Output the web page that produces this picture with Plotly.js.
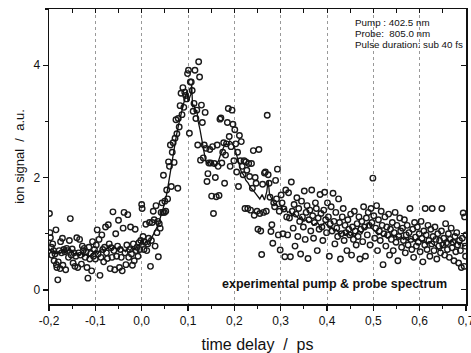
<!DOCTYPE html>
<html><head><meta charset="utf-8">
<script src="https://cdn.plot.ly/plotly-3.0.1.min.js"></script>
<style>html,body{margin:0;padding:0;background:#fff}#chart{width:471px;height:353px}</style>
</head><body><div id="chart"></div>
<script>
// measured points: time delay (ps) and ion signal (a.u.)
var pointX = [
-0.199,-0.198,-0.197,-0.195,-0.194,-0.192,-0.190,-0.189,-0.187,-0.185,-0.184,-0.183,-0.181,-0.180,-0.178,-0.176,-0.175,-0.173,-0.171,-0.170,
-0.168,-0.166,-0.164,-0.162,-0.160,-0.158,-0.156,-0.154,-0.152,-0.150,-0.148,-0.146,-0.144,-0.142,-0.140,-0.138,-0.136,-0.134,-0.132,-0.130,
-0.128,-0.126,-0.124,-0.122,-0.120,-0.118,-0.116,-0.114,-0.112,-0.110,-0.108,-0.106,-0.104,-0.102,-0.100,-0.098,-0.096,-0.094,-0.092,-0.090,
-0.088,-0.086,-0.084,-0.082,-0.080,-0.078,-0.076,-0.074,-0.072,-0.070,-0.068,-0.066,-0.064,-0.062,-0.060,-0.058,-0.056,-0.054,-0.052,-0.050,
-0.048,-0.046,-0.044,-0.042,-0.040,-0.038,-0.036,-0.034,-0.032,-0.030,-0.028,-0.026,-0.024,-0.022,-0.020,-0.018,-0.016,-0.014,-0.012,-0.010,
-0.008,-0.006,-0.004,-0.002,0.000,0.001,0.003,0.005,0.007,0.009,0.011,0.013,0.015,0.017,0.019,0.021,0.023,0.025,0.027,0.029,
0.031,0.033,0.035,0.036,0.038,0.040,0.042,0.044,0.046,0.047,0.049,0.050,0.052,0.054,0.056,0.058,0.060,0.062,0.064,0.066,
0.068,0.070,0.072,0.074,0.076,0.078,0.079,0.081,0.083,0.085,0.087,0.089,0.091,0.093,0.095,0.097,0.099,0.101,0.103,0.105,
0.107,0.109,0.111,0.113,0.115,0.117,0.119,0.121,0.123,0.125,0.127,0.129,0.131,0.133,0.135,0.137,0.139,0.141,0.143,0.145,
0.147,0.149,0.151,0.153,0.155,0.157,0.159,0.161,0.163,0.165,0.167,0.169,0.171,0.173,0.175,0.177,0.179,0.181,0.183,0.185,
0.187,0.189,0.191,0.193,0.195,0.197,0.199,0.201,0.203,0.205,0.207,0.209,0.211,0.213,0.215,0.217,0.219,0.221,0.223,0.225,
0.227,0.229,0.231,0.233,0.235,0.237,0.239,0.241,0.243,0.245,0.247,0.249,0.251,0.253,0.255,0.257,0.259,0.261,0.263,0.265,
0.267,0.269,0.271,0.273,0.275,0.277,0.279,0.281,0.283,0.285,0.287,0.289,0.291,0.293,0.295,0.297,0.299,0.301,0.303,0.305,
0.307,0.309,0.311,0.313,0.315,0.317,0.319,0.321,0.323,0.325,0.327,0.329,0.331,0.333,0.335,0.337,0.339,0.341,0.343,0.345,
0.347,0.349,0.351,0.353,0.355,0.357,0.359,0.361,0.363,0.365,0.367,0.369,0.371,0.373,0.375,0.377,0.379,0.381,0.383,0.385,
0.387,0.389,0.391,0.393,0.395,0.397,0.399,0.401,0.403,0.405,0.407,0.409,0.411,0.413,0.415,0.417,0.419,0.421,0.423,0.425,
0.427,0.429,0.431,0.433,0.435,0.437,0.439,0.441,0.443,0.445,0.447,0.449,0.451,0.453,0.455,0.457,0.459,0.461,0.463,0.465,
0.467,0.469,0.471,0.473,0.475,0.477,0.479,0.481,0.483,0.485,0.487,0.489,0.491,0.493,0.495,0.497,0.499,0.501,0.503,0.505,
0.507,0.509,0.511,0.513,0.515,0.517,0.519,0.521,0.523,0.525,0.527,0.529,0.531,0.533,0.535,0.537,0.539,0.541,0.543,0.545,
0.547,0.549,0.551,0.553,0.555,0.557,0.559,0.561,0.563,0.565,0.567,0.569,0.571,0.573,0.575,0.577,0.579,0.581,0.583,0.585,
0.587,0.589,0.591,0.593,0.595,0.597,0.599,0.601,0.603,0.605,0.607,0.609,0.611,0.612,0.614,0.616,0.618,0.620,0.622,0.624,
0.626,0.627,0.629,0.631,0.633,0.635,0.637,0.639,0.641,0.643,0.645,0.647,0.648,0.650,0.652,0.654,0.656,0.658,0.660,0.662,
0.664,0.666,0.668,0.670,0.672,0.674,0.676,0.678,0.680,0.682,0.684,0.686,0.688,0.690,0.692,0.694,0.696,0.697,0.698,0.699,
0.700
];
var pointY = [
1.36,1.02,0.93,0.76,0.62,0.82,0.70,0.52,0.64,1.07,0.45,0.40,0.18,0.50,0.70,0.38,0.86,0.66,0.92,0.44,
0.72,0.68,0.36,0.74,0.70,0.58,0.88,1.27,0.62,0.73,0.48,0.66,0.42,0.60,0.93,0.40,0.66,0.90,0.62,0.46,
0.78,0.70,0.74,0.58,0.68,0.40,0.21,0.76,0.55,0.65,0.34,0.86,0.60,0.72,0.55,0.80,1.07,0.64,0.90,0.26,
0.58,0.98,0.72,0.50,0.76,1.12,0.66,0.56,1.16,0.82,0.38,0.75,0.58,1.39,0.70,0.36,1.00,0.60,0.78,1.24,
0.40,0.72,0.58,0.34,1.10,1.38,0.66,0.45,0.80,1.34,0.58,0.72,1.12,0.64,0.44,0.82,0.52,1.08,0.70,0.76,
0.60,0.84,0.72,0.88,1.52,1.45,0.95,0.72,0.85,1.17,0.70,0.82,0.92,1.20,0.42,0.88,1.20,1.40,1.25,0.78,
1.50,1.02,1.22,0.59,1.18,1.10,1.38,1.55,1.38,2.04,1.38,1.58,1.40,1.78,1.62,2.28,2.20,2.58,1.84,2.45,
2.62,2.27,2.70,3.03,2.78,1.81,3.05,2.90,3.28,3.50,3.12,3.60,3.25,3.52,3.46,3.40,3.85,3.91,2.79,3.70,
3.70,3.55,3.18,3.32,3.91,3.05,3.20,2.58,4.06,3.79,2.31,3.29,2.98,2.35,2.58,3.16,2.52,1.93,2.07,2.26,
2.50,2.26,1.67,2.55,1.36,2.25,2.00,1.66,2.58,2.20,1.68,3.04,3.06,2.26,2.45,2.62,1.90,2.40,2.60,2.98,
3.23,2.73,2.20,2.55,3.20,2.95,2.30,2.85,2.60,2.10,2.45,1.84,2.75,2.30,2.64,2.20,2.05,2.30,1.45,2.28,
2.13,1.45,2.25,2.02,1.42,2.25,1.81,2.48,1.33,2.00,1.90,1.40,1.08,2.50,1.36,1.05,0.63,1.88,1.38,2.08,
2.10,1.40,3.11,2.05,1.90,1.65,1.04,1.16,0.83,1.55,1.48,1.95,1.62,2.15,0.98,1.40,0.71,1.69,1.55,1.00,
1.44,0.59,1.78,1.30,0.98,1.73,1.28,0.59,1.92,1.40,1.10,1.52,0.78,1.35,1.64,0.95,1.45,1.22,0.64,1.58,
1.30,1.12,1.76,0.90,1.38,1.50,0.56,1.25,1.42,1.05,1.78,1.32,0.92,1.20,1.55,1.45,0.70,1.28,1.08,1.70,
1.36,1.12,0.88,1.42,1.74,1.25,1.02,1.55,1.30,0.60,1.18,1.48,1.05,1.72,1.22,0.82,1.38,1.10,0.95,1.62,
1.20,0.55,1.00,1.30,1.45,0.88,1.15,1.02,0.70,1.25,1.08,0.98,1.35,0.62,1.12,0.90,1.40,1.05,0.80,1.18,
0.95,1.30,0.55,1.08,1.22,0.86,1.48,1.12,0.60,1.28,0.98,1.38,1.15,0.80,1.45,1.20,1.99,1.32,0.92,1.10,
1.50,0.70,1.25,1.05,0.88,1.40,1.15,0.45,1.00,1.30,0.78,1.12,0.98,1.35,0.62,1.08,0.90,1.20,0.70,1.02,
1.38,0.85,1.15,0.52,0.95,1.28,1.05,0.76,1.10,0.88,1.25,0.66,0.98,1.15,0.80,1.02,1.45,0.90,0.72,1.08,
0.58,1.20,0.94,0.78,1.12,0.85,1.00,0.68,1.22,0.92,0.50,1.05,0.80,1.45,0.98,0.72,1.15,0.88,0.60,1.08,
0.82,1.45,0.95,0.70,1.12,0.90,0.55,1.00,0.78,0.88,0.66,1.05,1.45,0.80,0.92,0.62,1.18,0.84,0.72,1.00,
0.58,0.90,1.10,0.75,0.85,0.52,0.95,0.68,1.02,0.80,0.48,0.88,0.70,0.40,0.92,1.37,0.42,1.30,0.78,0.60,
0.98
];
// smoothed curve through the data
var lineX = [
-0.200,-0.195,-0.190,-0.185,-0.180,-0.175,-0.170,-0.165,-0.160,-0.155,-0.150,-0.145,-0.140,-0.135,-0.130,-0.125,-0.120,-0.115,-0.110,-0.105,
-0.100,-0.095,-0.090,-0.085,-0.080,-0.075,-0.070,-0.065,-0.060,-0.055,-0.050,-0.045,-0.040,-0.035,-0.030,-0.025,-0.020,-0.015,-0.010,-0.005,
0.000,0.005,0.010,0.015,0.020,0.025,0.030,0.035,0.040,0.045,0.050,0.055,0.060,0.065,0.070,0.075,0.080,0.085,0.090,0.095,
0.098,0.100,0.103,0.106,0.108,0.110,0.113,0.116,0.119,0.122,0.126,0.130,0.134,0.138,0.142,0.146,0.150,0.154,0.158,0.162,
0.166,0.170,0.175,0.180,0.185,0.190,0.195,0.200,0.205,0.210,0.215,0.220,0.225,0.230,0.235,0.240,0.245,0.250,0.255,0.260,
0.265,0.270,0.273,0.276,0.280,0.285,0.290,0.295,0.300,0.305,0.310,0.315,0.320,0.325,0.330,0.335,0.340,0.345,0.350,0.355,
0.360,0.365,0.370,0.375,0.380,0.385,0.390,0.395,0.400,0.405,0.410,0.415,0.420,0.425,0.430,0.435,0.440,0.445,0.450,0.455,
0.460,0.465,0.470,0.475,0.480,0.485,0.490,0.495,0.500,0.505,0.510,0.515,0.520,0.525,0.530,0.535,0.540,0.545,0.550,0.555,
0.560,0.565,0.570,0.575,0.580,0.585,0.590,0.595,0.600,0.605,0.610,0.615,0.620,0.625,0.630,0.635,0.640,0.645,0.650,0.655,
0.660,0.665,0.670,0.675,0.680,0.685,0.690,0.695,0.700
];
var lineY = [
0.72,0.68,0.70,0.64,0.68,0.66,0.72,0.66,0.70,0.74,0.68,0.64,0.66,0.62,0.66,0.60,0.64,0.58,0.62,0.66,
0.70,0.64,0.70,0.72,0.68,0.74,0.76,0.72,0.78,0.74,0.70,0.76,0.72,0.68,0.74,0.70,0.76,0.72,0.78,0.80,
0.90,0.82,0.86,0.80,0.90,0.98,1.05,1.15,1.28,1.40,1.55,1.75,2.00,2.30,2.55,2.75,2.95,3.15,3.30,3.45,
3.55,3.35,3.40,3.48,3.65,3.25,3.30,3.15,3.20,3.00,2.85,2.65,2.45,2.30,2.25,2.28,2.22,2.28,2.20,2.25,
2.30,2.40,2.50,2.60,2.58,2.65,2.62,2.55,2.40,2.25,2.10,2.05,1.95,1.90,1.82,1.78,1.72,1.66,1.62,1.70,
1.60,1.75,1.95,1.70,1.62,1.55,1.52,1.48,1.50,1.42,1.45,1.38,1.40,1.32,1.35,1.30,1.26,1.30,1.22,1.25,
1.20,1.22,1.15,1.18,1.20,1.12,1.16,1.20,1.15,1.10,1.12,1.05,1.08,1.02,1.00,1.05,0.98,1.02,0.96,1.00,
0.95,1.02,1.05,1.00,1.08,1.12,1.20,1.10,1.08,1.02,0.98,1.00,0.95,0.98,0.92,0.95,0.98,0.94,0.96,0.92,
0.95,0.90,0.92,0.88,0.92,0.90,0.86,0.92,0.88,0.85,0.88,0.82,0.86,0.84,0.80,0.78,0.72,0.70,0.78,0.84,
0.90,0.85,0.88,0.82,0.86,0.80,0.84,0.78,0.80
];
var xTickVals = [-0.2,-0.1,0.0,0.1,0.2,0.3,0.4,0.5,0.6,0.7];
var xTickText = ["-0,2","-0,1","0,0","0,1","0,2","0,3","0,4","0,5","0,6","0,7"];
var yTickVals = [0,2,4];
var yTickText = ["0","2","4"];
var infoLines = ["Pump : 402.5 nm","Probe:  805.0 nm","Pulse duration: sub 40 fs"];

var FONT = "Liberation Sans, Arial, sans-serif";
var traces = [
  {x: pointX, y: pointY, type: "scatter", mode: "markers",
   marker: {symbol: "circle-open", size: 5.5, color: "#1a1a1a", line: {width: 1.4, color: "#1a1a1a"}},
   hoverinfo: "skip", showlegend: false, cliponaxis: true},
  {x: lineX, y: lineY, type: "scatter", mode: "lines",
   line: {color: "#111", width: 1.3}, hoverinfo: "skip", showlegend: false},
  {x: [], y: [], xaxis: "x2", yaxis: "y2", type: "scatter", mode: "markers", showlegend: false}
];
var ann = [];
for (var i = 0; i < infoLines.length; i++) {
  ann.push({xref: "paper", yref: "paper", x: 0.728, y: 0.953 - i*0.0375, xanchor: "left", yanchor: "middle",
            text: infoLines[i], showarrow: false, font: {family: FONT, size: 9.8, color: "#111"}});
}
ann.push({xref: "paper", yref: "paper", x: 0.685, y: 0.068, xanchor: "center", yanchor: "middle",
          text: "<b>experimental pump &amp; probe spectrum</b>", showarrow: false,
          font: {family: FONT, size: 12.5, color: "#111"}});

var layout = {
  width: 471, height: 353,
  margin: {l: 49, r: 5, t: 9, b: 49, pad: 0},
  paper_bgcolor: "#fff", plot_bgcolor: "#fff",
  separators: ",.",
  font: {family: FONT, size: 12, color: "#111"},
  showlegend: false,
  xaxis: {range: [-0.2, 0.7], tickvals: xTickVals, ticktext: xTickText, ticklabeloverflow: "allow",
          ticks: "outside", ticklen: 5, tickwidth: 1.2, tickcolor: "#111",
          minor: {dtick: 0.05, tick0: -0.2, ticks: "outside", ticklen: 3, tickcolor: "#111", showgrid: false},
          showline: true, linecolor: "#111", linewidth: 1.5, mirror: true,
          showgrid: true, gridcolor: "#999", griddash: "dot", gridwidth: 1,
          zeroline: false, tickfont: {family: FONT, size: 12, color: "#111"},
          title: {text: "time delay  /  ps", font: {family: FONT, size: 16, color: "#111"}, standoff: 13}},
  yaxis: {range: [-0.25, 5], tickvals: yTickVals, ticktext: yTickText,
          ticks: "outside", ticklen: 5, tickwidth: 1.2, tickcolor: "#111",
          minor: {dtick: 1, tick0: 0, ticks: "outside", ticklen: 3, tickcolor: "#111", showgrid: false},
          showline: true, linecolor: "#111", linewidth: 1.5, mirror: true,
          showgrid: false, zeroline: false, tickfont: {family: FONT, size: 12, color: "#111"},
          title: {text: "ion signal  /  a.u.", font: {family: FONT, size: 13, color: "#111"}, standoff: 6}},
  xaxis2: {overlaying: "x", side: "top", anchor: "y", range: [-0.2, 0.7], dtick: 0.05, tick0: -0.2,
           ticks: "inside", ticklen: 4, tickcolor: "#111", tickwidth: 1, showticklabels: false,
           showgrid: false, zeroline: false, showline: false},
  yaxis2: {overlaying: "y", side: "right", anchor: "x", range: [-0.25, 5], dtick: 1, tick0: 0,
           ticks: "inside", ticklen: 5, tickcolor: "#111", tickwidth: 1, showticklabels: false,
           showgrid: false, zeroline: false, showline: false},
  annotations: ann
};
Plotly.newPlot("chart", traces, layout, {staticPlot: true, displayModeBar: false});
</script></body></html>
